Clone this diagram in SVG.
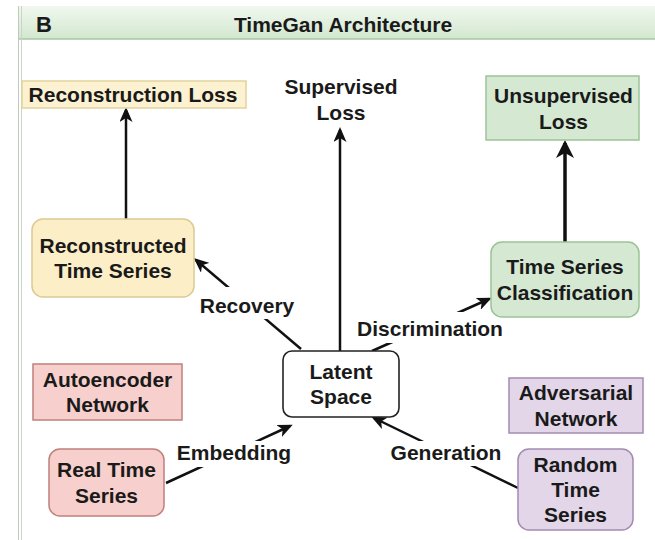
<svg xmlns="http://www.w3.org/2000/svg" width="655" height="540" viewBox="0 0 655 540">
  <defs>
    <linearGradient id="hdr" x1="0" y1="0" x2="0" y2="1">
      <stop offset="0" stop-color="#f1f8ef"/>
      <stop offset="1" stop-color="#d2e7cf"/>
    </linearGradient>
    <marker id="arr" markerUnits="userSpaceOnUse" markerWidth="15" markerHeight="13" refX="12" refY="6.5" orient="auto">
      <path d="M0,0 L15,6.5 L0,13 L4,6.5 Z" fill="#111"/>
    </marker>
    <marker id="arrBig" markerUnits="userSpaceOnUse" markerWidth="18" markerHeight="18" refX="15" refY="9" orient="auto">
      <path d="M0,0 L18,9 L0,18 L5,9 Z" fill="#111"/>
    </marker>
    <style>
      .t { font-family: "Liberation Sans", Arial, sans-serif; font-weight: bold; font-size: 21px; fill: #1a1a1a; text-anchor: middle; }
      .line { stroke: #111; stroke-width: 2.5; fill: none; marker-end: url(#arr); }
      .bg { fill: #ffffff; }
      .yellow { fill: #fcf2d2; stroke: #e2d29c; stroke-width: 1.5; }
      .yellow2 { fill: #fcefc8; stroke: #dcca92; stroke-width: 1.5; }
      .green { fill: #d5e8d2; stroke: #9cc298; stroke-width: 1.5; }
      .red { fill: #f7cfcc; stroke: #c0807c; stroke-width: 1.5; }
      .purple { fill: #e2d6e8; stroke: #a48bb2; stroke-width: 1.5; }
      .white { fill: #ffffff; stroke: #222; stroke-width: 1.6; }
    </style>
  </defs>

  <rect x="0" y="0" width="655" height="540" fill="#ffffff"/>

  <g id="frame">
    <rect x="18" y="6" width="637" height="33" fill="url(#hdr)"/>
    <line x1="18" y1="39" x2="655" y2="39" stroke="#a8c5a4" stroke-width="1.5"/>
    <line x1="18.5" y1="6" x2="18.5" y2="540" stroke="#bccbba" stroke-width="1"/>
    <line x1="21.5" y1="6" x2="21.5" y2="540" stroke="#c9d6c7" stroke-width="1"/>
    <text x="36" y="32" font-family="Liberation Sans, Arial, sans-serif" font-weight="bold" font-size="22" fill="#1a1a1a">B</text>
    <text class="t" x="343" y="32">TimeGan Architecture</text>
  </g>

  <g id="connectors">
    <path class="line" d="M126,219 L126,110"/>
    <path class="line" d="M340,351 L340,130"/>
    <path d="M565,242 L565,143" stroke="#111" stroke-width="3.5" fill="none" marker-end="url(#arrBig)"/>
    <path class="line" d="M301,349 L196,260"/>
    <path class="line" d="M372,351 L489,299"/>
    <path class="line" d="M166,483 L290,426"/>
    <path class="line" d="M518,488 L374,418"/>

    <g id="label-recovery">
      <rect class="bg" x="198" y="287" width="99" height="32"/>
      <text class="t" x="247" y="313">Recovery</text>
    </g>
    <g id="label-discrimination">
      <rect class="bg" x="355" y="312" width="150" height="31"/>
      <text class="t" x="430" y="336">Discrimination</text>
    </g>
    <g id="label-embedding">
      <rect class="bg" x="174" y="441" width="120" height="26"/>
      <text class="t" x="234" y="460">Embedding</text>
    </g>
    <g id="label-generation">
      <rect class="bg" x="388" y="441" width="115" height="25"/>
      <text class="t" x="446" y="460">Generation</text>
    </g>
  </g>

  <g id="reconstruction-loss">
    <rect class="yellow" x="22" y="81" width="224" height="27"/>
    <text class="t" x="133" y="102">Reconstruction Loss</text>
  </g>

  <g id="supervised-loss">
    <text class="t" x="341" y="94">Supervised</text>
    <text class="t" x="341" y="119.5">Loss</text>
  </g>

  <g id="unsupervised-loss">
    <rect class="green" x="486" y="76" width="153" height="64"/>
    <text class="t" x="563.5" y="103">Unsupervised</text>
    <text class="t" x="563.5" y="128.5">Loss</text>
  </g>

  <g id="reconstructed-time-series">
    <rect class="yellow2" x="32" y="219" width="162" height="78" rx="11"/>
    <text class="t" x="113" y="252.75">Reconstructed</text>
    <text class="t" x="113" y="278.25">Time Series</text>
  </g>

  <g id="time-series-classification">
    <rect class="green" x="491" y="242" width="148" height="75" rx="11"/>
    <text class="t" x="565" y="274.25">Time Series</text>
    <text class="t" x="565" y="299.75">Classification</text>
  </g>

  <g id="latent-space">
    <rect class="white" x="283" y="351" width="116" height="66" rx="9"/>
    <text class="t" x="341" y="378.75">Latent</text>
    <text class="t" x="341" y="404.25">Space</text>
  </g>

  <g id="autoencoder-network">
    <rect class="red" x="33" y="364" width="149" height="56"/>
    <text class="t" x="107.5" y="386.75">Autoencoder</text>
    <text class="t" x="107.5" y="412.25">Network</text>
  </g>

  <g id="adversarial-network">
    <rect class="purple" x="509" y="378" width="134" height="55"/>
    <text class="t" x="576" y="400.25">Adversarial</text>
    <text class="t" x="576" y="425.75">Network</text>
  </g>

  <g id="real-time-series">
    <rect class="red" x="49" y="449" width="115" height="67" rx="11"/>
    <text class="t" x="106.5" y="477.25">Real Time</text>
    <text class="t" x="106.5" y="502.75">Series</text>
  </g>

  <g id="random-time-series">
    <rect class="purple" x="518" y="449" width="115" height="81" rx="11"/>
    <text class="t" x="575.5" y="472">Random</text>
    <text class="t" x="575.5" y="497">Time</text>
    <text class="t" x="575.5" y="522">Series</text>
  </g>
</svg>
